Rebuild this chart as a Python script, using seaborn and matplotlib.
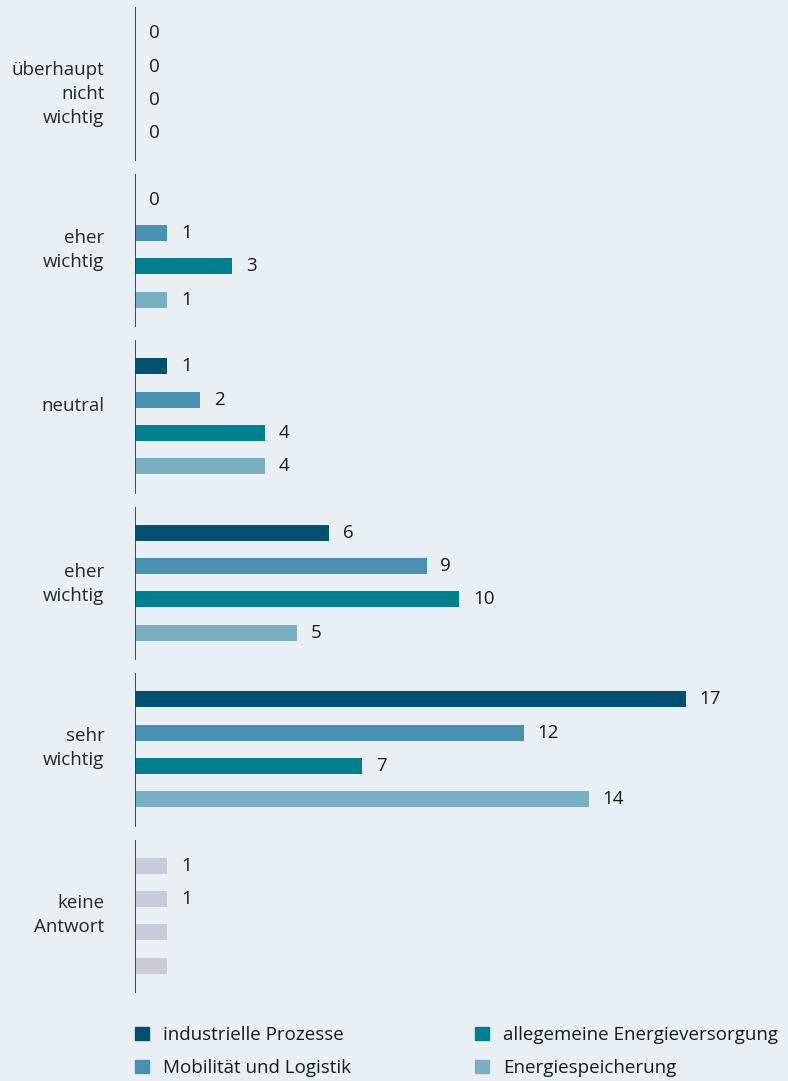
import matplotlib
matplotlib.use("Agg")
import matplotlib.pyplot as plt
import matplotlib.patches as mpatches
import matplotlib.transforms as mtransforms
import seaborn as sns
import pandas as pd

categories = ["überhaupt\nnicht\nwichtig", "eher\nwichtig", "neutral", "eher\nwichtig", "sehr\nwichtig", "keine\nAntwort"]
series = ["industrielle Prozesse", "Mobilität und Logistik", "allegemeine Energieversorgung", "Energiespeicherung"]
industrielle = [0, 0, 1, 6, 17, 1]
mobilitaet = [0, 1, 2, 9, 12, 1]
allgemeine = [0, 3, 4, 10, 7, 1]
speicherung = [0, 1, 4, 5, 14, 1]
keine_labels_shown = [True, True, False, False]

colors = ["#03506f", "#4a90b0", "#00808f", "#7aafc1"]
grey = "#c9cbd6"
bg = "#e8f0f6"
FS = 13.5

sns.set_theme(style="white")
plt.rcParams["font.family"] = ["Open Sans", "DejaVu Sans"]
plt.rcParams["text.color"] = "#1a1a1a"

rows = []
for gi, cat in enumerate(categories):
    for s, vals in zip(series, [industrielle, mobilitaet, allgemeine, speicherung]):
        rows.append({"group": f"g{gi}", "series": s, "value": vals[gi]})
df = pd.DataFrame(rows)

fig = plt.figure(figsize=(7.88, 10.81), dpi=100, facecolor=bg)
ax = fig.add_axes([135 / 788, 1 - 999 / 1081, 653 / 788, 999 / 1081])
ax.set_facecolor(bg)

sns.barplot(data=df, y="group", x="value", hue="series", order=[f"g{i}" for i in range(6)],
            hue_order=series, palette=colors, width=0.8, gap=0.52, orient="h",
            ax=ax, legend=False, saturation=1, errorbar=None, linewidth=0)

ax.set_xlim(0, 653 / 32.4)
ax.set_ylim(5.5, -0.5)

all_vals = [industrielle, mobilitaet, allgemeine, speicherung]
for hi, cont in enumerate(ax.containers):
    labels = []
    for gi, bar in enumerate(cont):
        v = all_vals[hi][gi]
        bar.set_linewidth(0)
        if gi == len(categories) - 1:
            bar.set_facecolor(grey)
            labels.append(str(v) if keine_labels_shown[hi] else "")
        else:
            labels.append(str(v))
    ax.bar_label(cont, labels=labels, padding=10, fontsize=FS, color="#1a1a1a")

for gi in range(len(categories)):
    ax.vlines(0, gi - 0.455, gi + 0.465, color="#3a3a3a", linewidth=1.3, zorder=5)

for sp in ax.spines.values():
    sp.set_visible(False)
ax.set_xticks([])
ax.set_yticks(range(len(categories)))
ax.set_yticklabels(categories, fontsize=FS, linespacing=1.42, ha="right")
ax.tick_params(axis="y", length=0, pad=22)
ax.set_xlabel("")
ax.set_ylabel("")

# small vertical nudges of individual category labels (in pixels, positive = up)
nudges = [-6, 5, 12.5, 4, 6, 6]
for lab, dy in zip(ax.get_yticklabels(), nudges):
    lab.set_transform(lab.get_transform() + mtransforms.ScaledTranslation(0, dy / 100, fig.dpi_scale_trans))

handles = [mpatches.Patch(color=c, label=s) for c, s in zip(colors, series)]
leg_kw = dict(loc="upper left", ncol=1, frameon=False, fontsize=FS, handlelength=0.75,
              handleheight=0.75, handletextpad=0.75, labelspacing=0.8, borderaxespad=0,
              borderpad=0)
fig.legend(handles=handles[:2], bbox_to_anchor=(135 / 788, 1 - 1026 / 1081), **leg_kw)
fig.legend(handles=handles[2:], bbox_to_anchor=(475 / 788, 1 - 1026 / 1081), **leg_kw)

fig.savefig("out.png", dpi=100, facecolor=bg)
